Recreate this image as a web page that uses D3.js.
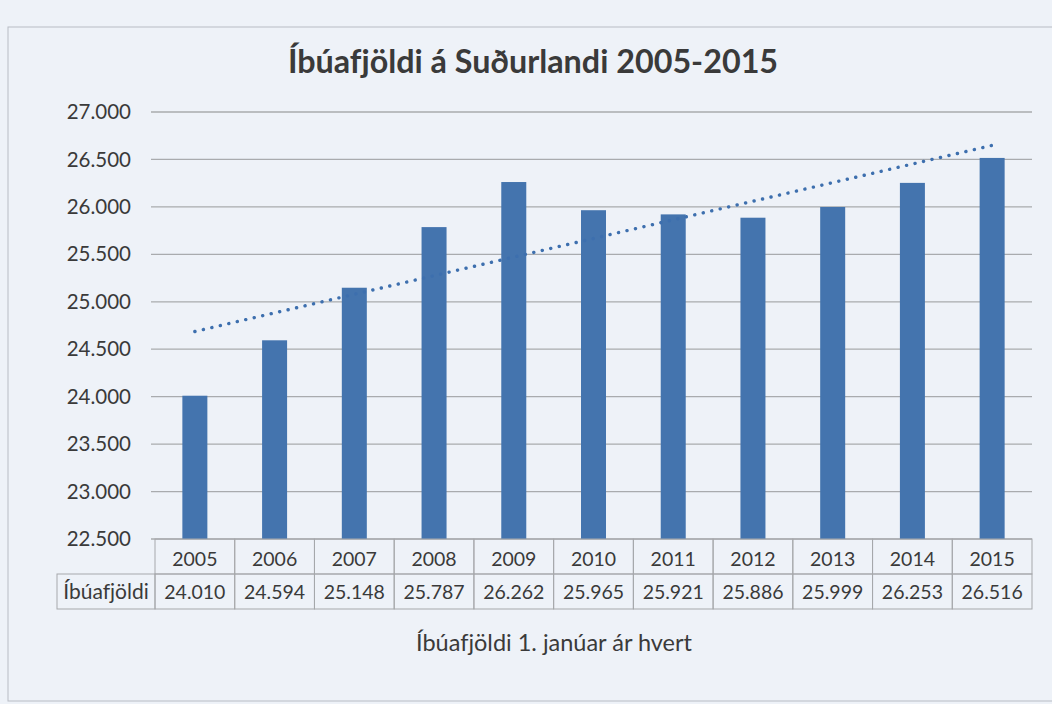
<!DOCTYPE html>
<html>
<head>
<meta charset="utf-8">
<script src="https://cdn.jsdelivr.net/npm/d3@7"></script>
<style>
  body { margin: 0; background: #eef2f8; }
  svg { display: block; }
  text { font-family: Lato, "Open Sans", sans-serif; fill: #3a3a3a; font-variant-ligatures: none; }
</style>
</head>
<body>
<div id="chart"></div>
<script>
// data
const years = ['2005', '2006', '2007', '2008', '2009', '2010', '2011', '2012', '2013', '2014', '2015'];
const population = [24010, 24594, 25148, 25787, 26262, 25965, 25921, 25886, 25999, 26253, 26516];
const yTicks = [22500, 23000, 23500, 24000, 24500, 25000, 25500, 26000, 26500, 27000];
const seriesName = 'Íbúafjöldi';
const title = 'Íbúafjöldi á Suðurlandi 2005-2015';
const xTitle = 'Íbúafjöldi 1. janúar ár hvert';

const width = 1052, height = 704;
const margin = { top: 112, left: 155, right: 1032, bottom: 539 };

const svg = d3.select('#chart').append('svg')
    .attr('width', width)
    .attr('height', height);

const fmt = n => d3.format(',')(n).replace(/,/g, '.');

// chart frame
svg.append('rect')
    .attr('x', 8).attr('y', 27)
    .attr('width', 1080).attr('height', 674)
    .attr('fill', 'none')
    .attr('stroke', '#b8bcc4')
    .attr('stroke-width', 1);

svg.append('text')
    .attr('x', 533).attr('y', 73)
    .attr('text-anchor', 'middle')
    .attr('font-size', 32.3)
    .attr('font-weight', 'bold')
    .text(title);

const x = d3.scaleBand().domain(years).range([margin.left, margin.right]);
const y = d3.scaleLinear().domain([22500, 27000]).range([margin.bottom, margin.top]);

// gridlines
svg.append('g')
    .selectAll('line')
    .data(yTicks)
    .join('line')
    .attr('x1', margin.left - 4).attr('x2', margin.right)
    .attr('y1', d => y(d)).attr('y2', d => y(d))
    .attr('stroke', '#a9abae')
    .attr('stroke-width', 1.3);

// y axis labels
const yAxis = d3.axisLeft(y).tickValues(yTicks).tickFormat(fmt).tickSize(0).tickPadding(24);
svg.append('g')
    .attr('transform', `translate(${margin.left},0)`)
    .call(yAxis)
    .call(g => g.select('.domain').remove())
    .call(g => g.selectAll('text')
        .attr('font-size', 20.5)
        .attr('font-family', 'Lato, sans-serif')
        .attr('fill', '#3a3a3a'));

// bars
const barW = 25;
svg.append('g')
    .selectAll('rect')
    .data(population)
    .join('rect')
    .attr('x', (d, i) => x(years[i]) + x.bandwidth() / 2 - barW / 2)
    .attr('y', d => y(d))
    .attr('width', barW)
    .attr('height', d => y(22500) - y(d))
    .attr('fill', '#4474ae');

// linear trendline
const n = population.length;
const mx = d3.mean(d3.range(n));
const my = d3.mean(population);
const slope = d3.sum(population, (v, i) => (i - mx) * (v - my)) / d3.sum(d3.range(n), i => (i - mx) ** 2);
const trend = [0, n - 1].map(i => ({ i, v: my + slope * (i - mx) }));

svg.append('path')
    .datum(trend)
    .attr('d', d3.line()
        .x(d => x(years[d.i]) + x.bandwidth() / 2)
        .y(d => y(d.v)))
    .attr('fill', 'none')
    .attr('stroke', '#3d6fae')
    .attr('stroke-width', 3.4)
    .attr('stroke-linecap', 'round')
    .attr('stroke-dasharray', '0.1 8.6');

// data table
const rowH = 35;
const tableTop = margin.bottom;
const cellStroke = '#a6a8ab';
const table = svg.append('g');

years.forEach((yr, i) => {
    table.append('rect')
        .attr('x', x(yr)).attr('y', tableTop)
        .attr('width', x.bandwidth()).attr('height', rowH)
        .attr('fill', 'none').attr('stroke', cellStroke);
    table.append('rect')
        .attr('x', x(yr)).attr('y', tableTop + rowH)
        .attr('width', x.bandwidth()).attr('height', rowH)
        .attr('fill', 'none').attr('stroke', cellStroke);
    table.append('text')
        .attr('x', x(yr) + x.bandwidth() / 2)
        .attr('y', tableTop + rowH / 2 + 9)
        .attr('text-anchor', 'middle')
        .attr('font-size', 19.5)
        .text(yr);
    table.append('text')
        .attr('x', x(yr) + x.bandwidth() / 2)
        .attr('y', tableTop + rowH * 1.5 + 7)
        .attr('text-anchor', 'middle')
        .attr('font-size', 19.5)
        .text(fmt(population[i]));
});

table.append('rect')
    .attr('x', 57).attr('y', tableTop + rowH)
    .attr('width', margin.left - 57).attr('height', rowH)
    .attr('fill', 'none').attr('stroke', cellStroke);
table.append('text')
    .attr('x', 106)
    .attr('y', tableTop + rowH * 1.5 + 7)
    .attr('text-anchor', 'middle')
    .attr('font-size', 21)
    .text(seriesName);

svg.append('text')
    .attr('x', 554).attr('y', 651)
    .attr('text-anchor', 'middle')
    .attr('font-size', 23.5)
    .text(xTitle);
</script>
</body>
</html>
